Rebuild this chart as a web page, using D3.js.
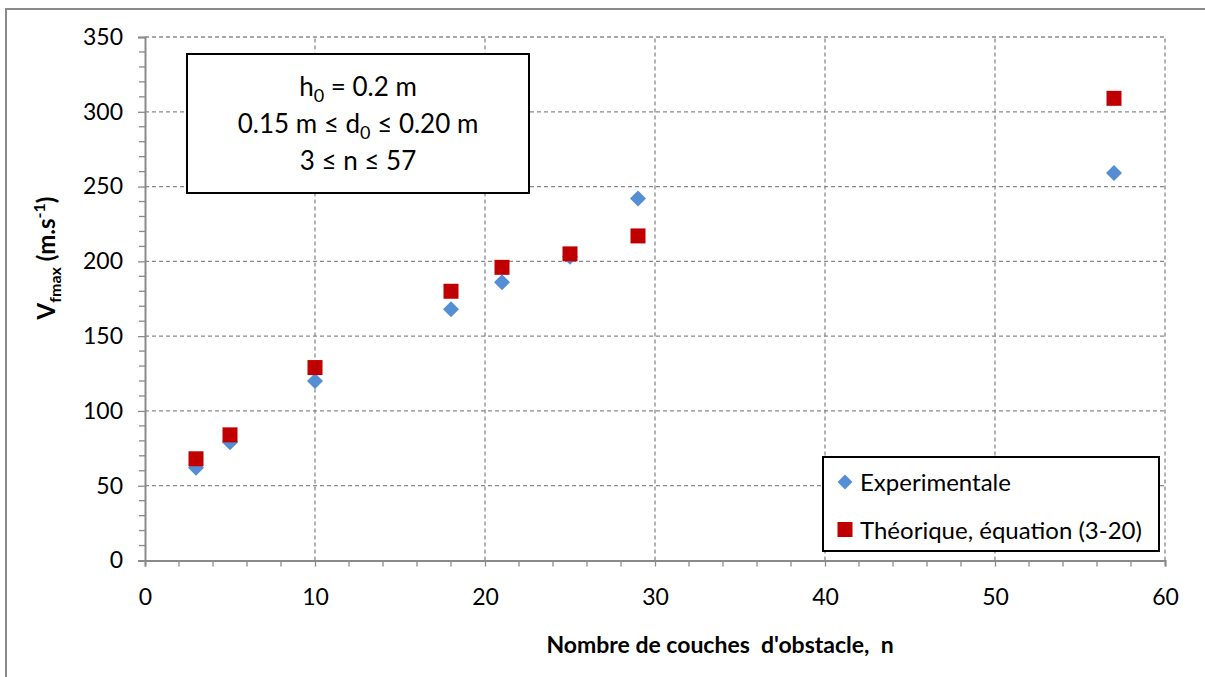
<!DOCTYPE html>
<html><head><meta charset="utf-8">
<script src="https://cdn.jsdelivr.net/npm/d3@7"></script>
<style>body{margin:0;background:#fff}svg{display:block}text{font-family:Lato,"Open Sans",sans-serif}</style>
</head><body>
<svg id="c" width="1205" height="677"></svg>
<script>
const nValues = [3, 5, 10, 18, 21, 25, 29, 57];
const experimental = [62, 79, 120, 168, 186, 203, 242, 259];
const theoretical = [68, 84, 129, 180, 196, 205, 217, 309];
const xTicks = [0, 10, 20, 30, 40, 50, 60];
const yTicks = [0, 50, 100, 150, 200, 250, 300, 350];
const seriesNames = ["Experimentale", "Théorique, équation (3-20)"];
const infoLines = ["h0 = 0.2 m", "0.15 m ≤ d0 ≤ 0.20 m", "3 ≤ n ≤ 57"];

const svg = d3.select("#c");
const grid = "#8a8a8a";
const blue = "#558ED5", red = "#C00000";
const x = d3.scaleLinear().domain([0, 60]).range([145, 1165]);
const y = d3.scaleLinear().domain([0, 350]).range([560.5, 37]);

// outer frame
svg.append("rect").attr("x", 6).attr("y", 9).attr("width", 1250).attr("height", 720)
  .attr("fill", "none").attr("stroke", "#8a8a8a").attr("stroke-width", 2);

// grid
svg.append("g").selectAll("line").data(yTicks.filter(d => d > 0)).join("line")
  .attr("x1", x(0)).attr("x2", x(60)).attr("y1", d => y(d)).attr("y2", d => y(d))
  .attr("stroke", grid).attr("stroke-width", 1.3).attr("stroke-dasharray", "4,3");
svg.append("g").selectAll("line").data(xTicks.filter(d => d > 0)).join("line")
  .attr("y1", y(0)).attr("y2", y(350)).attr("x1", d => x(d)).attr("x2", d => x(d))
  .attr("stroke", grid).attr("stroke-width", 1.3).attr("stroke-dasharray", "4,3");

// axes
const yAxis = d3.axisLeft(y).tickValues(yTicks).tickSize(7).tickPadding(15);
const gy = svg.append("g").attr("transform", `translate(${x(0)},0)`).call(yAxis);
const yMinor = d3.range(0, 351, 10).filter(d => d % 50 !== 0);
svg.append("g").selectAll("line").data(yMinor).join("line")
  .attr("x1", x(0) - 6).attr("x2", x(0)).attr("y1", d => y(d)).attr("y2", d => y(d))
  .attr("stroke", grid).attr("stroke-width", 1.3);
const xAxis = d3.axisBottom(x).tickValues(xTicks).tickSize(6).tickPadding(14);
const gx = svg.append("g").attr("transform", `translate(0,${y(0)})`).call(xAxis);
const xMinor = d3.range(0, 61, 2).filter(d => d % 10 !== 0);
svg.append("g").selectAll("line").data(xMinor).join("line")
  .attr("x1", d => x(d)).attr("x2", d => x(d)).attr("y1", y(0)).attr("y2", y(0) + 6)
  .attr("stroke", grid).attr("stroke-width", 1.3);
[gx, gy].forEach(g => {
  g.select(".domain").attr("stroke", grid).attr("stroke-width", 2);
  g.selectAll(".tick line").attr("stroke", grid).attr("stroke-width", 1.3);
  g.selectAll(".tick text").attr("font-size", 23).attr("fill", "#000")
    .style("font-family", "Lato, 'Open Sans', sans-serif");
});
gx.selectAll(".tick text").attr("dy", null).attr("y", 44);

// markers
const diamond = d3.symbol().type(d3.symbolSquare).size(128);
svg.append("g").selectAll("path").data(nValues).join("path")
  .attr("d", diamond())
  .attr("transform", (d, i) => `translate(${x(d)},${y(experimental[i])}) rotate(45)`)
  .attr("fill", blue);
svg.append("g").selectAll("rect").data(nValues).join("rect")
  .attr("x", d => x(d) - 7.5).attr("y", (d, i) => y(theoretical[i]) - 7.5)
  .attr("width", 15).attr("height", 15).attr("fill", red);

// info box
svg.append("rect").attr("x", 187).attr("y", 54).attr("width", 342).attr("height", 139)
  .attr("fill", "#fff").attr("stroke", "#000").attr("stroke-width", 2);
const info = svg.append("g").attr("font-size", 26).attr("text-anchor", "middle");
const l1 = info.append("text").attr("x", 358).attr("y", 96);
l1.append("tspan").text("h");
l1.append("tspan").attr("font-size", 18).attr("dy", 6).text("0");
l1.append("tspan").attr("dy", -6).text(" = 0.2 m");
const l2 = info.append("text").attr("x", 358).attr("y", 133);
l2.append("tspan").text("0.15 m ≤ d");
l2.append("tspan").attr("font-size", 18).attr("dy", 6).text("0");
l2.append("tspan").attr("dy", -6).text(" ≤ 0.20 m");
info.append("text").attr("x", 358).attr("y", 170).text(infoLines[2]);

// legend
svg.append("rect").attr("x", 823).attr("y", 457).attr("width", 336).attr("height", 94)
  .attr("fill", "#fff").attr("stroke", "#000").attr("stroke-width", 2);
svg.append("path").attr("d", d3.symbol().type(d3.symbolSquare).size(110)())
  .attr("transform", "translate(845,482) rotate(45)").attr("fill", blue);
svg.append("rect").attr("x", 837.5).attr("y", 522).attr("width", 15).attr("height", 15).attr("fill", red);
svg.append("text").attr("x", 860).attr("y", 491).attr("font-size", 24).text(seriesNames[0]);
svg.append("text").attr("x", 860).attr("y", 539).attr("font-size", 24).text(seriesNames[1]);

// axis titles
svg.append("text").attr("x", 720).attr("y", 653).attr("text-anchor", "middle")
  .attr("font-size", 23).attr("font-weight", "bold")
  .style("white-space", "pre").text("Nombre de couches  d'obstacle,  n");
const yt = svg.append("text").attr("transform", "translate(55,258) rotate(-90)")
  .attr("text-anchor", "middle").attr("font-size", 24).attr("font-weight", "bold");
yt.append("tspan").text("V");
yt.append("tspan").attr("font-size", 16).attr("dy", 6).text("fmax");
yt.append("tspan").attr("dy", -6).text(" (m.s");
yt.append("tspan").attr("font-size", 16).attr("dy", -10).text("-1");
yt.append("tspan").attr("dy", 10).text(")");
</script>
</body></html>
